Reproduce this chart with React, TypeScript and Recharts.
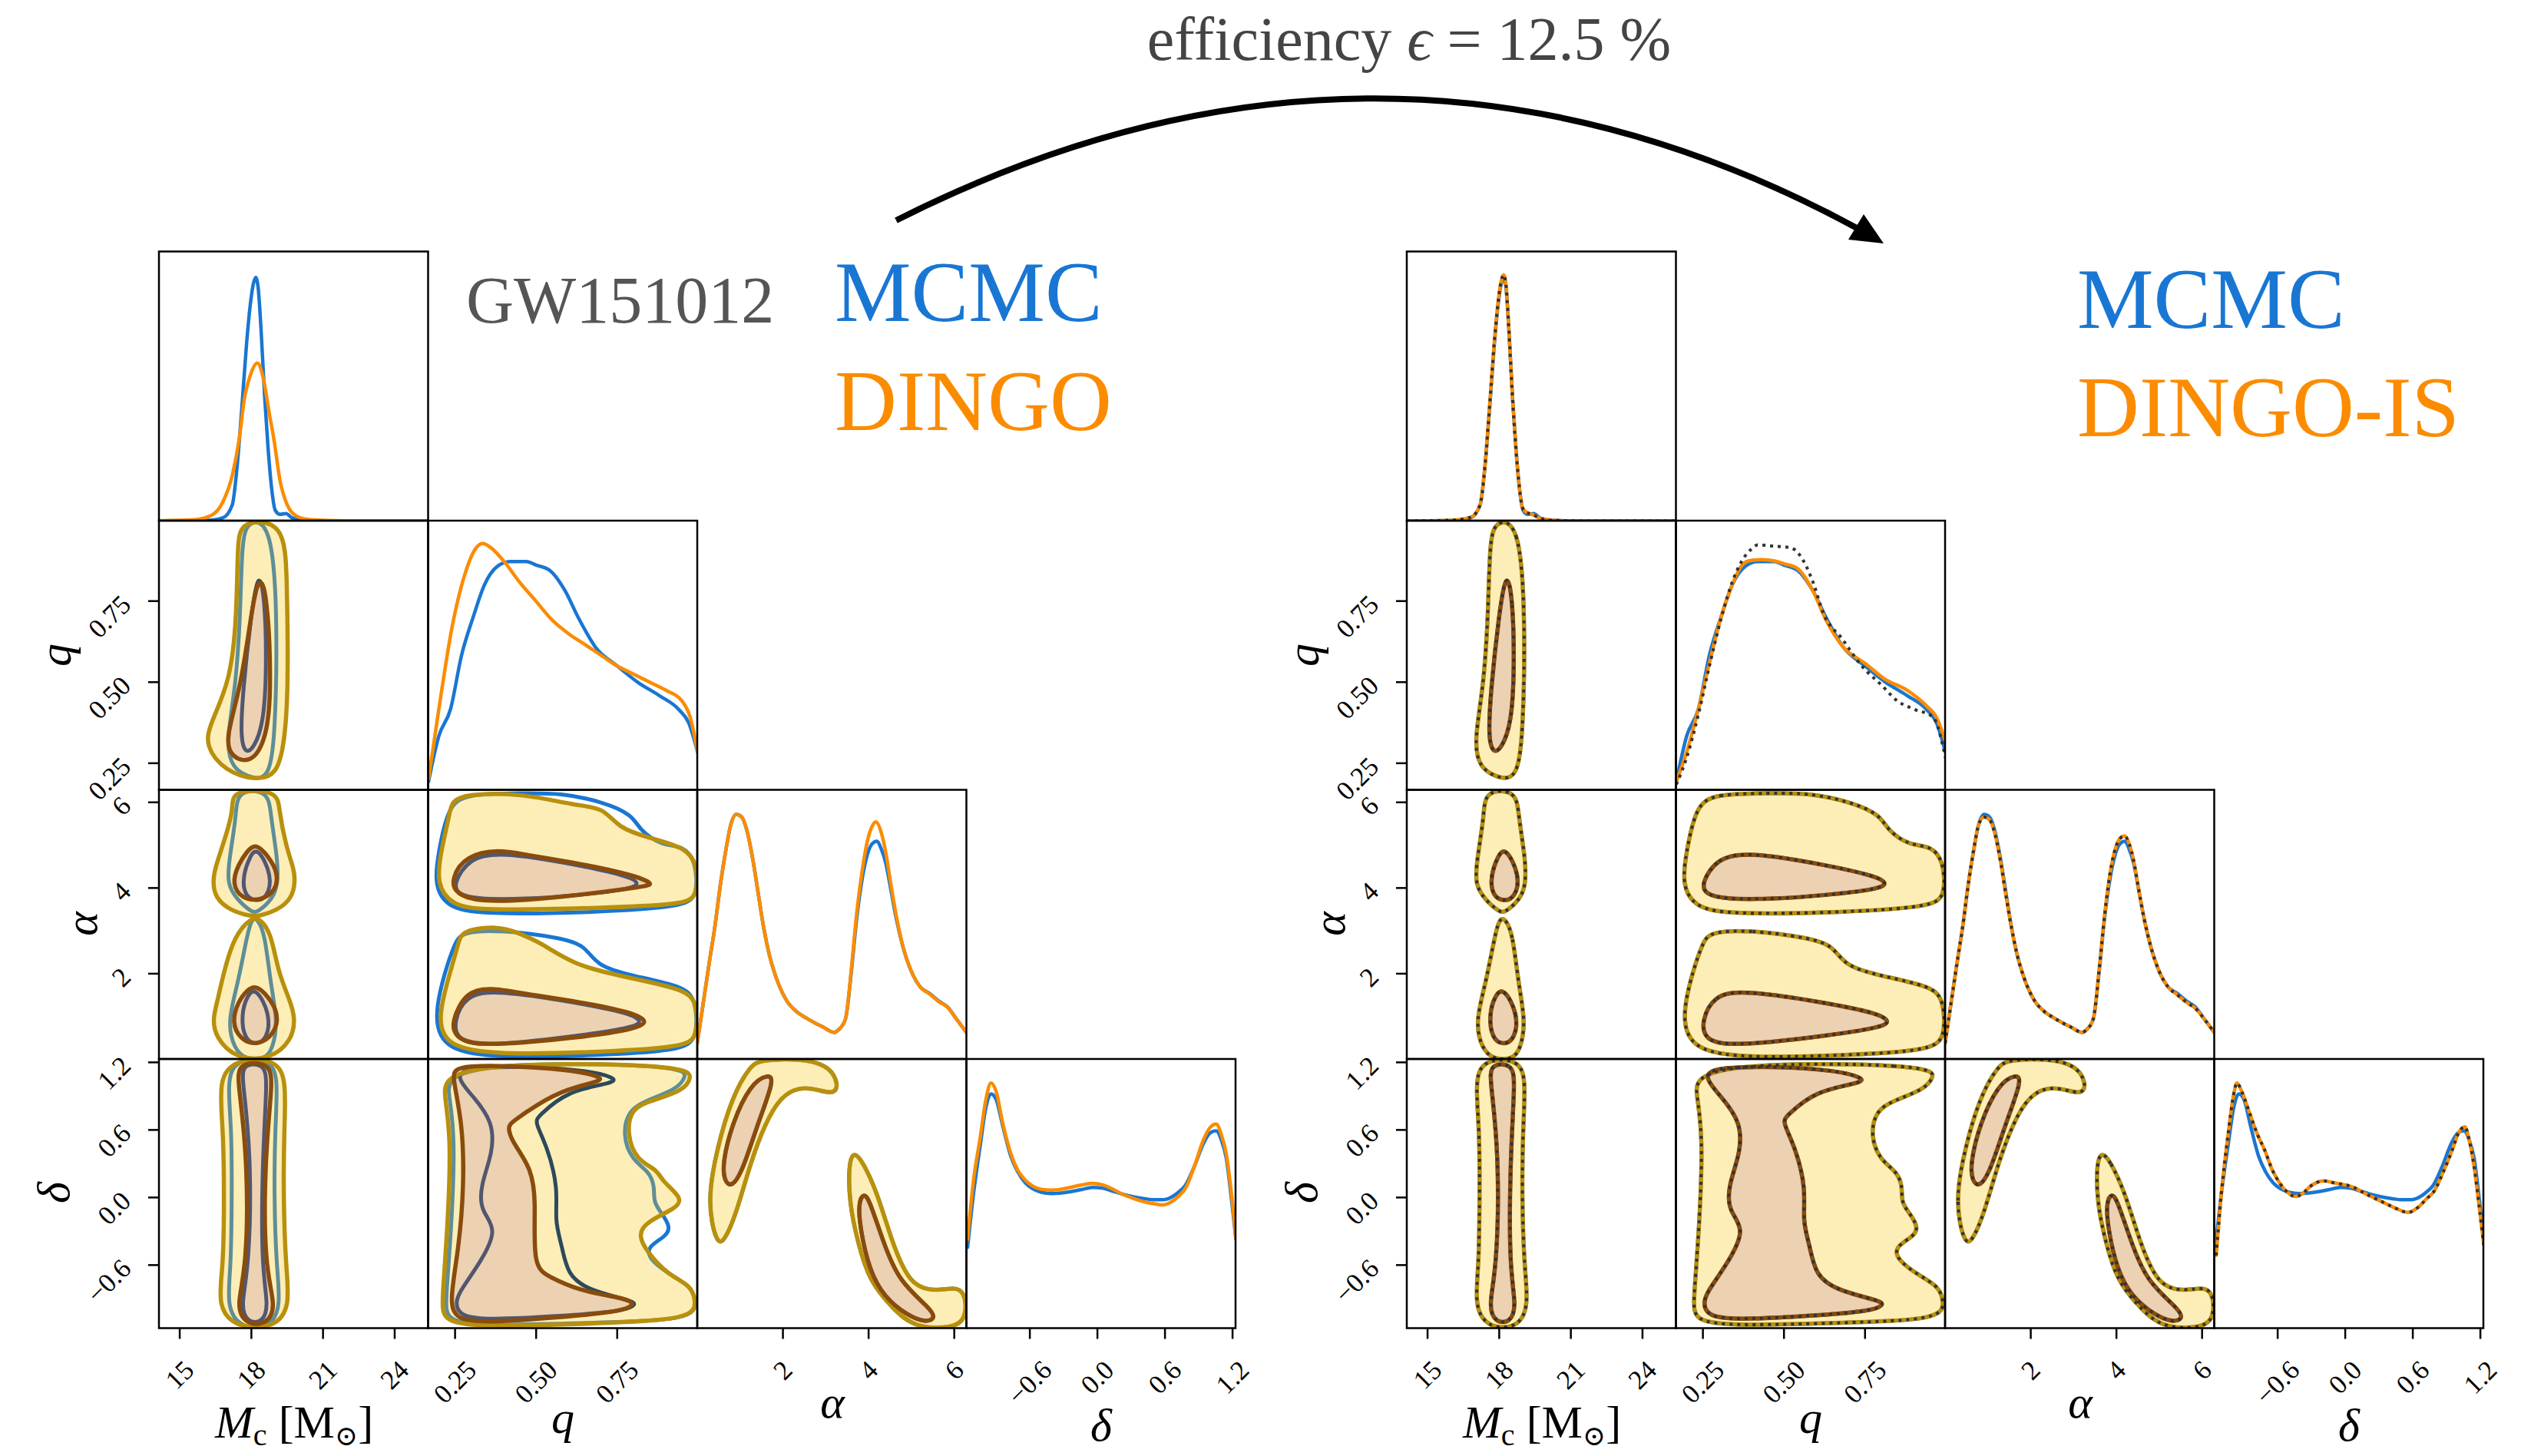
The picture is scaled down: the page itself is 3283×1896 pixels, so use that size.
import React from "react";
import { ScatterChart, Scatter, XAxis, YAxis } from "recharts";

type Pair = [number, number];

// axis ranges
const mcRange: [number, number] = [14.13, 25.4];
const qRange: [number, number] = [0.168, 0.998];
const alphaRange: [number, number] = [0, 6.283];
const deltaRange: [number, number] = [-1.16, 1.23];
const densityRange: [number, number] = [0, 1];

const mcTicks = [15, 18, 21, 24];
const mcTickLabels = ["15", "18", "21", "24"];
const qTicks = [0.25, 0.5, 0.75];
const qTickLabels = ["0.25", "0.50", "0.75"];
const alphaTicks = [2, 4, 6];
const alphaTickLabels = ["2", "4", "6"];
const deltaTicks = [-0.6, 0, 0.6, 1.2];
const deltaTickLabels = ["\u22120.6", "0.0", "0.6", "1.2"];

// 1D marginals (density scaled to panel height)
const mcMcmc: Pair[] = [[14.13, 0], [16.0, 0.002], [16.8, 0.012], [17.2, 0.06], [17.4, 0.2], [17.6, 0.42], [17.8, 0.66], [17.95, 0.8], [18.08, 0.88], [18.18, 0.905], [18.28, 0.87], [18.4, 0.72], [18.55, 0.47], [18.7, 0.27], [18.85, 0.12], [19.0, 0.04], [19.2, 0.025], [19.45, 0.028], [19.7, 0.012], [20.2, 0.003], [21.5, 0], [25.4, 0]];
const mcDingo: Pair[] = [[14.13, 0.001], [15.5, 0.004], [16.3, 0.02], [16.8, 0.07], [17.2, 0.17], [17.5, 0.31], [17.7, 0.45], [17.95, 0.54], [18.25, 0.587], [18.5, 0.53], [18.75, 0.4], [18.95, 0.3], [19.2, 0.15], [19.5, 0.06], [19.9, 0.018], [20.5, 0.005], [22, 0.001], [25.4, 0]];
const mcDingoIs: Pair[] = [[14.13, 0], [16.0, 0.003], [16.8, 0.014], [17.2, 0.06], [17.4, 0.2], [17.6, 0.43], [17.8, 0.67], [17.95, 0.81], [18.08, 0.89], [18.18, 0.915], [18.28, 0.88], [18.4, 0.72], [18.55, 0.47], [18.7, 0.27], [18.85, 0.12], [19.0, 0.045], [19.2, 0.03], [19.45, 0.022], [19.7, 0.01], [20.2, 0.003], [21.5, 0], [25.4, 0]];

const qMcmc: Pair[] = [[0.168, 0.03], [0.2, 0.2], [0.236, 0.3], [0.27, 0.5], [0.307, 0.646], [0.34, 0.76], [0.38, 0.83], [0.42, 0.848], [0.47, 0.848], [0.5, 0.835], [0.542, 0.815], [0.589, 0.74], [0.63, 0.64], [0.683, 0.53], [0.75, 0.46], [0.813, 0.4], [0.88, 0.35], [0.941, 0.297], [0.97, 0.25], [0.998, 0.14]];
const qDingo: Pair[] = [[0.168, 0.04], [0.2, 0.3], [0.24, 0.6], [0.28, 0.8], [0.31, 0.89], [0.335, 0.915], [0.36, 0.9], [0.4, 0.85], [0.45, 0.77], [0.5, 0.7], [0.55, 0.63], [0.6, 0.58], [0.65, 0.54], [0.7, 0.5], [0.75, 0.46], [0.8, 0.43], [0.85, 0.4], [0.9, 0.37], [0.95, 0.33], [0.975, 0.27], [0.998, 0.14]];
const qDingoIs: Pair[] = [[0.168, 0.03], [0.2, 0.14], [0.236, 0.3], [0.27, 0.47], [0.307, 0.646], [0.34, 0.76], [0.366, 0.827], [0.39, 0.85], [0.43, 0.855], [0.471, 0.85], [0.5, 0.84], [0.542, 0.822], [0.589, 0.74], [0.63, 0.63], [0.683, 0.53], [0.75, 0.47], [0.813, 0.41], [0.88, 0.37], [0.941, 0.31], [0.97, 0.27], [0.998, 0.18]];
const qDotted: Pair[] = [[0.168, 0.02], [0.2, 0.12], [0.236, 0.28], [0.27, 0.46], [0.307, 0.64], [0.34, 0.77], [0.37, 0.85], [0.4, 0.895], [0.42, 0.91], [0.47, 0.905], [0.52, 0.9], [0.55, 0.87], [0.59, 0.77], [0.62, 0.66], [0.68, 0.56], [0.74, 0.46], [0.8, 0.39], [0.85, 0.33], [0.9, 0.3], [0.96, 0.27], [0.998, 0.12]];

const alphaMcmc: Pair[] = [[0.0, 0.06], [0.15, 0.22], [0.3, 0.38], [0.4, 0.48], [0.55, 0.66], [0.66, 0.77], [0.78, 0.87], [0.91, 0.91], [1.04, 0.9], [1.16, 0.85], [1.3, 0.74], [1.42, 0.62], [1.55, 0.49], [1.68, 0.39], [1.85, 0.3], [2.1, 0.215], [2.3, 0.18], [2.53, 0.155], [2.75, 0.135], [2.96, 0.118], [3.1, 0.105], [3.2, 0.1], [3.3, 0.11], [3.46, 0.15], [3.6, 0.33], [3.72, 0.52], [3.85, 0.67], [3.97, 0.76], [4.08, 0.8], [4.19, 0.81], [4.3, 0.78], [4.4, 0.73], [4.52, 0.63], [4.65, 0.52], [4.8, 0.42], [4.99, 0.33], [5.2, 0.27], [5.42, 0.245], [5.65, 0.215], [5.84, 0.195], [6.05, 0.15], [6.283, 0.1]];
const alphaDingo: Pair[] = [[0.0, 0.06], [0.15, 0.22], [0.3, 0.38], [0.4, 0.48], [0.55, 0.66], [0.66, 0.77], [0.78, 0.87], [0.91, 0.91], [1.04, 0.9], [1.16, 0.85], [1.3, 0.74], [1.42, 0.62], [1.55, 0.49], [1.68, 0.39], [1.85, 0.3], [2.1, 0.215], [2.3, 0.18], [2.53, 0.155], [2.75, 0.135], [2.96, 0.118], [3.1, 0.105], [3.2, 0.1], [3.3, 0.11], [3.46, 0.15], [3.6, 0.34], [3.72, 0.54], [3.85, 0.7], [3.97, 0.81], [4.08, 0.865], [4.17, 0.882], [4.3, 0.84], [4.4, 0.77], [4.52, 0.65], [4.65, 0.53], [4.8, 0.42], [4.99, 0.33], [5.2, 0.27], [5.42, 0.243], [5.65, 0.213], [5.84, 0.194], [6.05, 0.15], [6.283, 0.1]];
const alphaDingoIs: Pair[] = [[0.0, 0.06], [0.15, 0.22], [0.3, 0.38], [0.4, 0.48], [0.55, 0.66], [0.66, 0.77], [0.78, 0.87], [0.91, 0.9], [1.04, 0.89], [1.16, 0.84], [1.3, 0.73], [1.42, 0.61], [1.55, 0.49], [1.68, 0.39], [1.85, 0.3], [2.1, 0.215], [2.3, 0.18], [2.53, 0.155], [2.75, 0.135], [2.96, 0.118], [3.1, 0.105], [3.2, 0.1], [3.3, 0.11], [3.46, 0.15], [3.6, 0.34], [3.72, 0.53], [3.85, 0.69], [3.97, 0.78], [4.08, 0.82], [4.19, 0.83], [4.3, 0.8], [4.4, 0.74], [4.52, 0.63], [4.65, 0.52], [4.8, 0.42], [4.99, 0.33], [5.2, 0.27], [5.42, 0.24], [5.65, 0.21], [5.84, 0.19], [6.05, 0.15], [6.283, 0.1]];

const deltaMcmc: Pair[] = [[-1.153, 0.3], [-1.1, 0.5], [-1.04, 0.68], [-0.99, 0.82], [-0.945, 0.87], [-0.9, 0.85], [-0.84, 0.75], [-0.77, 0.64], [-0.706, 0.58], [-0.64, 0.54], [-0.576, 0.518], [-0.5, 0.505], [-0.408, 0.5], [-0.32, 0.502], [-0.24, 0.507], [-0.14, 0.515], [-0.044, 0.523], [0.05, 0.52], [0.13, 0.51], [0.22, 0.498], [0.32, 0.488], [0.42, 0.481], [0.5, 0.477], [0.584, 0.477], [0.66, 0.487], [0.72, 0.505], [0.78, 0.53], [0.86, 0.6], [0.946, 0.69], [1.0, 0.725], [1.054, 0.733], [1.1, 0.7], [1.145, 0.63], [1.19, 0.48], [1.23, 0.33]];
const deltaDingo: Pair[] = [[-1.153, 0.33], [-1.1, 0.55], [-1.04, 0.71], [-0.99, 0.85], [-0.945, 0.911], [-0.9, 0.88], [-0.84, 0.76], [-0.77, 0.65], [-0.706, 0.586], [-0.64, 0.55], [-0.576, 0.528], [-0.5, 0.516], [-0.408, 0.513], [-0.32, 0.516], [-0.24, 0.523], [-0.14, 0.532], [-0.044, 0.538], [0.05, 0.532], [0.13, 0.518], [0.22, 0.498], [0.32, 0.482], [0.42, 0.469], [0.5, 0.462], [0.584, 0.458], [0.66, 0.47], [0.72, 0.49], [0.78, 0.518], [0.86, 0.6], [0.946, 0.704], [1.0, 0.745], [1.054, 0.758], [1.1, 0.72], [1.145, 0.645], [1.19, 0.5], [1.23, 0.332]];
const deltaDingoIs: Pair[] = [[-1.146, 0.27], [-1.1, 0.5], [-1.04, 0.72], [-0.99, 0.87], [-0.962, 0.911], [-0.92, 0.88], [-0.85, 0.8], [-0.78, 0.72], [-0.718, 0.664], [-0.65, 0.59], [-0.58, 0.538], [-0.5, 0.5], [-0.443, 0.489], [-0.38, 0.5], [-0.3, 0.53], [-0.194, 0.547], [-0.1, 0.54], [0.068, 0.524], [0.2, 0.495], [0.33, 0.469], [0.45, 0.445], [0.558, 0.43], [0.65, 0.45], [0.72, 0.48], [0.788, 0.508], [0.87, 0.58], [0.952, 0.664], [1.0, 0.72], [1.063, 0.748], [1.1, 0.7], [1.148, 0.59], [1.19, 0.45], [1.23, 0.31]];

// 2D credible contours, 90% (outer) and 50% (inner)
const mcQOuterDingo: Pair[] = [[17.56, 0.998], [19.39, 0.998], [19.49, 0.82], [19.55, 0.48], [19.39, 0.314], [19.07, 0.213], [18.19, 0.197], [16.9, 0.225], [16.06, 0.303], [16.26, 0.37], [17.13, 0.504], [17.39, 0.706], [17.42, 0.93]];
const mcQInnerDingo: Pair[] = [[18.26, 0.823], [18.64, 0.801], [18.85, 0.482], [18.64, 0.325], [17.99, 0.247], [17.13, 0.27], [16.91, 0.325], [17.55, 0.482], [17.99, 0.706]];
const mcQOuterMcmc: Pair[] = [[17.82, 0.998], [18.83, 0.998], [19.1, 0.705], [18.99, 0.313], [18.73, 0.213], [18.18, 0.197], [17.12, 0.234], [16.96, 0.325], [17.34, 0.481], [17.54, 0.705], [17.6, 0.93]];
const mcQInnerMcmc: Pair[] = [[18.3, 0.85], [18.57, 0.76], [18.64, 0.54], [18.51, 0.37], [18.09, 0.295], [17.76, 0.28], [17.54, 0.325], [17.64, 0.47], [17.99, 0.71]];

const mcAlphaUpperOuterDingo: Pair[] = [[17.12, 6.283], [19.11, 6.283], [19.15, 5.85], [19.44, 4.99], [19.75, 4.5], [19.85, 4.17], [19.69, 3.74], [19.05, 3.47], [18.31, 3.34], [17.99, 3.34], [17.12, 3.47], [16.48, 3.77], [16.38, 4.17], [16.5, 4.5], [16.8, 4.99], [17.28, 5.85]];
const mcAlphaLowerOuterDingo: Pair[] = [[18.31, 3.3], [18.82, 2.98], [19.11, 2.05], [19.6, 1.4], [19.85, 0.96], [19.69, 0.44], [18.82, 0], [17.35, 0], [16.48, 0.53], [16.38, 0.96], [16.6, 1.4], [16.8, 1.94], [17.28, 2.89], [17.99, 3.3]];
const mcAlphaUpperInnerDingo: Pair[] = [[18.18, 5.05], [18.73, 4.73], [19.11, 4.36], [19.05, 3.95], [18.41, 3.7], [17.6, 3.74], [17.18, 4.1], [17.44, 4.54], [17.83, 4.87]];
const mcAlphaLowerInnerDingo: Pair[] = [[18.18, 1.74], [18.73, 1.46], [19.15, 1.05], [18.99, 0.6], [18.25, 0.31], [17.51, 0.47], [17.18, 0.87], [17.44, 1.35], [17.83, 1.62]];
const mcAlphaUpperOuterMcmc: Pair[] = [[17.38, 6.283], [18.73, 6.283], [18.8, 5.71], [19.11, 4.63], [19.11, 4.09], [18.89, 3.74], [18.25, 3.43], [18.02, 3.43], [17.38, 3.74], [16.99, 4.09], [17.06, 4.63], [17.38, 5.71]];
const mcAlphaLowerOuterMcmc: Pair[] = [[18.25, 3.29], [18.57, 2.93], [18.8, 1.77], [19.11, 0.87], [18.89, 0.24], [18.57, 0], [17.76, 0], [17.28, 0.24], [16.99, 0.87], [17.44, 1.77], [17.83, 2.93], [18.02, 3.29]];
const mcAlphaUpperInnerMcmc: Pair[] = [[18.25, 4.99], [18.89, 4.27], [18.66, 3.77], [18.18, 3.68], [17.7, 3.83], [17.64, 4.27], [17.92, 4.72]];
const mcAlphaLowerInnerMcmc: Pair[] = [[18.18, 1.69], [18.8, 1.05], [18.66, 0.47], [18.18, 0.33], [17.7, 0.47], [17.57, 1.05], [17.83, 1.5]];

const mcDeltaOuterDingo: Pair[] = [[17.35, 1.23], [18.99, 1.23], [19.47, 1.056], [19.37, 0.606], [19.34, -0.008], [19.44, -0.62], [19.63, -0.962], [18.99, -1.16], [17.35, -1.16], [16.57, -0.962], [16.83, -0.62], [16.86, -0.008], [16.83, 0.606], [16.61, 1.056]];
const mcDeltaInnerDingo: Pair[] = [[17.43, 1.2], [18.79, 1.2], [18.89, 1.015], [18.57, 0.4], [18.53, -0.62], [19.05, -0.962], [18.66, -1.13], [17.76, -1.13], [17.35, -0.962], [17.83, -0.62], [17.83, 0.4], [17.44, 1.015]];
const mcDeltaOuterMcmc: Pair[] = [[17.28, 1.23], [18.89, 1.23], [19.11, 1.015], [18.99, 0.606], [18.95, -0.008], [19.05, -0.62], [19.24, -0.962], [18.79, -1.16], [17.51, -1.16], [16.96, -0.962], [17.15, -0.62], [17.18, -0.008], [17.18, 0.606], [16.99, 1.015]];
const mcDeltaInnerMcmc: Pair[] = [[17.6, 1.19], [18.57, 1.19], [18.66, 1.015], [18.47, 0.4], [18.41, -0.62], [18.73, -0.962], [18.47, -1.112], [17.83, -1.112], [17.54, -0.962], [17.92, -0.62], [17.99, 0.4], [17.64, 1.015]];

const qAlphaUpperOuterDingo: Pair[] = [[0.238, 6.01], [0.283, 6.2], [0.463, 6.21], [0.619, 5.92], [0.707, 5.89], [0.752, 5.41], [0.842, 5.18], [0.965, 4.94], [0.998, 4.52], [0.998, 3.8], [0.953, 3.61], [0.686, 3.53], [0.328, 3.47], [0.238, 3.61], [0.193, 4.1], [0.205, 4.81], [0.233, 5.71]];
const qAlphaUpperInnerDingo: Pair[] = [[0.238, 4.22], [0.283, 4.76], [0.385, 4.9], [0.463, 4.78], [0.629, 4.58], [0.797, 4.31], [0.863, 4.1], [0.842, 4.04], [0.629, 3.83], [0.463, 3.71], [0.328, 3.68], [0.25, 3.86]];
const qAlphaLowerOuterDingo: Pair[] = [[0.271, 3.02], [0.385, 3.11], [0.439, 2.97], [0.517, 2.72], [0.619, 2.18], [0.797, 1.89], [0.953, 1.64], [0.998, 1.35], [0.998, 0.51], [0.953, 0.27], [0.629, 0.15], [0.39, 0.12], [0.226, 0.27], [0.193, 0.93], [0.238, 2.12], [0.261, 2.72]];
const qAlphaLowerInnerDingo: Pair[] = [[0.238, 0.87], [0.283, 1.59], [0.361, 1.68], [0.463, 1.53], [0.629, 1.35], [0.797, 1.1], [0.851, 0.87], [0.797, 0.69], [0.629, 0.51], [0.463, 0.39], [0.316, 0.33], [0.25, 0.51]];
const qAlphaUpperOuterMcmc: Pair[] = [[0.228, 5.9], [0.283, 6.2], [0.463, 6.21], [0.574, 6.22], [0.707, 6.01], [0.797, 5.71], [0.819, 5.35], [0.887, 4.99], [0.953, 4.99], [0.993, 4.63], [0.998, 3.8], [0.953, 3.56], [0.686, 3.43], [0.328, 3.38], [0.221, 3.56], [0.186, 4.1], [0.198, 4.81]];
const qAlphaLowerOuterMcmc: Pair[] = [[0.271, 2.98], [0.394, 3.02], [0.574, 2.84], [0.652, 2.66], [0.686, 2.18], [0.797, 1.95], [0.953, 1.71], [0.993, 1.41], [0.998, 0.51], [0.953, 0.19], [0.629, 0.08], [0.39, 0.04], [0.221, 0.19], [0.181, 0.93], [0.221, 2.12], [0.25, 2.72]];
const qAlphaUpperInnerMcmc: Pair[] = [[0.245, 4.1], [0.292, 4.69], [0.387, 4.85], [0.629, 4.54], [0.789, 4.27], [0.82, 4.1], [0.789, 3.97], [0.629, 3.83], [0.463, 3.74], [0.316, 3.74], [0.257, 3.86]];
const qAlphaLowerInnerMcmc: Pair[] = [[0.245, 0.87], [0.283, 1.5], [0.375, 1.62], [0.629, 1.32], [0.789, 1.08], [0.832, 0.87], [0.789, 0.73], [0.629, 0.55], [0.463, 0.4], [0.316, 0.33], [0.257, 0.47]];

const qDeltaOuterDingo: Pair[] = [[0.216, 1.199], [0.965, 1.186], [0.981, 1.063], [0.953, 0.947], [0.853, 0.858], [0.792, 0.79], [0.78, 0.558], [0.809, 0.333], [0.875, 0.245], [0.887, 0.149], [0.953, -0.008], [0.932, -0.096], [0.842, -0.212], [0.813, -0.328], [0.842, -0.485], [0.908, -0.69], [0.977, -0.778], [0.993, -0.915], [0.986, -1.085], [0.685, -1.119], [0.349, -1.146], [0.21, -1.112], [0.21, -0.915], [0.228, -0.233], [0.238, 0.558], [0.216, 0.899]];
const qDeltaInnerDingo: Pair[] = [[0.25, 1.186], [0.574, 1.152], [0.707, 1.074], [0.697, 1.029], [0.595, 0.967], [0.505, 0.831], [0.427, 0.674], [0.411, 0.627], [0.427, 0.49], [0.484, 0.265], [0.5, -0.008], [0.489, -0.621], [0.541, -0.703], [0.629, -0.826], [0.773, -0.894], [0.806, -0.942], [0.773, -1.01], [0.574, -1.064], [0.349, -1.112], [0.25, -1.085], [0.233, -0.915], [0.261, -0.465], [0.278, 0.108], [0.273, 0.674], [0.24, 1.084]];
const qDeltaOuterMcmc: Pair[] = [[0.221, 1.199], [0.96, 1.186], [0.962, 1.063], [0.932, 0.96], [0.837, 0.858], [0.785, 0.776], [0.766, 0.558], [0.795, 0.333], [0.849, 0.231], [0.866, 0.094], [0.861, -0.042], [0.889, -0.145], [0.915, -0.267], [0.899, -0.348], [0.842, -0.437], [0.849, -0.553], [0.915, -0.69], [0.979, -0.792], [0.993, -0.928], [0.986, -1.085], [0.685, -1.112], [0.349, -1.14], [0.221, -1.099], [0.221, -0.915], [0.24, -0.233], [0.25, 0.558], [0.231, 0.899]];
const qDeltaInnerMcmc: Pair[] = [[0.261, 1.174], [0.629, 1.152], [0.752, 1.061], [0.735, 1.015], [0.595, 0.947], [0.507, 0.72], [0.495, 0.674], [0.535, 0.447], [0.568, 0.083], [0.557, -0.212], [0.579, -0.417], [0.596, -0.689], [0.663, -0.826], [0.797, -0.917], [0.808, -0.951], [0.775, -1.008], [0.574, -1.053], [0.35, -1.087], [0.261, -1.053], [0.25, -0.917], [0.272, -0.803], [0.328, -0.576], [0.383, -0.28], [0.328, -0.121], [0.328, 0.106], [0.367, 0.402], [0.367, 0.674], [0.305, 0.901], [0.261, 1.038]];

const alphaDeltaUpperOuter: Pair[] = [[0.45, -0.417], [0.23, -0.042], [0.45, 0.422], [0.81, 0.893], [1.24, 1.172], [1.5, 1.23], [2.98, 1.23], [3.32, 1.008], [3.19, 0.913], [2.8, 0.961], [2.37, 0.981], [1.94, 0.893], [1.58, 0.654], [1.24, 0.306], [0.9, -0.158], [0.63, -0.39]];
const alphaDeltaUpperInner: Pair[] = [[1.67, 1.098], [1.8, 1.043], [1.41, 0.654], [1.06, 0.238], [0.81, 0.088], [0.63, 0.142], [0.59, 0.306], [0.81, 0.654], [1.24, 1.008]];
const alphaDeltaLowerOuter: Pair[] = [[3.67, 0.401], [3.84, 0.333], [4.2, 0.05], [4.54, -0.392], [4.97, -0.788], [5.58, -0.834], [6.1, -0.788], [6.27, -0.882], [6.27, -1.071], [6.01, -1.16], [5.06, -1.16], [4.54, -0.976], [4.02, -0.743], [3.76, -0.417], [3.54, -0.042], [3.54, 0.333]];
const alphaDeltaLowerInner: Pair[] = [[3.89, 0.04], [4.02, -0.021], [4.36, -0.417], [4.71, -0.743], [5.41, -0.976], [5.58, -1.071], [5.32, -1.112], [4.89, -1.044], [4.36, -0.882], [4.02, -0.649], [3.8, -0.275], [3.76, -0.042]];

const SERIF = "'Liberation Serif', 'DejaVu Serif', serif";
const BLUE = "#1976D2";
const ORANGE = "#FB8C00";
const GOLD = "#B8900C";
const BROWN = "#8A4C0C";
const REF_INNER = "#2C4A5C";
const OUTER_FILL = "rgb(249,197,18)";
const INNER_FILL = "rgb(189,129,169)";
const DOT = "#333333";

const P = 350.5;
const M = 40;
const AXW = 130;
const AXH = 110;
const TICK_FS = 35;

type Layer = {
  data: Pair[];
  closed: boolean;
  fill?: string;
  fillOpacity?: number;
  stroke?: string;
  width?: number;
  dash?: string;
};

type Piece = { outer: Pair[]; inner: Pair[]; refOuter: Pair[]; refInner: Pair[] };

const labelSide = (s: string) => {
  const em = [...s].reduce((w, c) => w + (c === "." ? 0.25 : c === "\u2212" ? 0.56 : 0.5), 0);
  return (em * TICK_FS + 0.7 * TICK_FS) * 0.7071;
};

function XTick(props: any) {
  const { x, y, payload, values, labels } = props;
  const text = labels[values.indexOf(payload.value)] ?? String(payload.value);
  const s = labelSide(text);
  const cx = x;
  const cy = y + 26 + s / 2;
  return (
    <text x={cx} y={cy} textAnchor="middle" dominantBaseline="central" fontSize={TICK_FS} fontFamily={SERIF} fill="#000" transform={`rotate(-45 ${cx} ${cy})`}>
      {text}
    </text>
  );
}

function YTick(props: any) {
  const { x, y, payload, values, labels } = props;
  const text = labels[values.indexOf(payload.value)] ?? String(payload.value);
  const s = labelSide(text);
  const cx = x - 20 - s / 2;
  const cy = y - 10 + s / 2;
  return (
    <text x={cx} y={cy} textAnchor="middle" dominantBaseline="central" fontSize={TICK_FS} fontFamily={SERIF} fill="#000" transform={`rotate(-45 ${cx} ${cy})`}>
      {text}
    </text>
  );
}

const NoDot = () => <g />;

function Panel(props: {
  left: number;
  top: number;
  xDomain: [number, number];
  yDomain: [number, number];
  xTicks?: number[];
  xLabels?: string[];
  yTicks?: number[];
  yLabels?: string[];
  layers: Layer[];
}) {
  const { left, top, xDomain, yDomain, xTicks, xLabels, yTicks, yLabels, layers } = props;
  const yw = yTicks ? AXW : 0;
  const xh = xTicks ? AXH : 0;
  return (
    <div style={{ position: "absolute", left: left - M - yw, top: top - M }}>
      <ScatterChart width={P + 2 * M + yw} height={P + 2 * M + xh} margin={{ top: M, right: M, bottom: M, left: M }}>
        <XAxis
          type="number"
          dataKey="x"
          domain={xDomain}
          allowDataOverflow
          hide={!xTicks}
          height={xh || 1}
          ticks={xTicks}
          interval={0}
          tickSize={14}
          tickMargin={0}
          axisLine={false}
          tickLine={{ stroke: "#000", strokeWidth: 2.5 }}
          tick={(p: any) => <XTick {...p} values={xTicks} labels={xLabels} />}
        />
        <YAxis
          type="number"
          dataKey="y"
          domain={yDomain}
          allowDataOverflow
          hide={!yTicks}
          width={yw || 1}
          ticks={yTicks}
          interval={0}
          tickSize={14}
          tickMargin={0}
          axisLine={false}
          tickLine={{ stroke: "#000", strokeWidth: 2.5 }}
          tick={(p: any) => <YTick {...p} values={yTicks} labels={yLabels} />}
        />
        {layers.map((l, i) => (
          <Scatter
            key={i}
            data={l.data.map(([x, y]) => ({ x, y }))}
            isAnimationActive={false}
            shape={NoDot}
            fill="none"
            lineJointType={l.closed ? "basisClosed" : "monotoneX"}
            line={{
              fill: l.fill ?? "none",
              fillOpacity: l.fillOpacity ?? 1,
              stroke: l.stroke ?? "none",
              strokeWidth: l.width ?? 0,
              strokeDasharray: l.dash,
              strokeLinejoin: "round",
              strokeLinecap: l.dash ? "butt" : "round",
            }}
          />
        ))}
      </ScatterChart>
    </div>
  );
}

function contourLayers(pieces: Piece[], dotted: boolean): Layer[] {
  const out: Layer[] = [];
  pieces.forEach((p) => out.push({ data: p.refOuter, closed: true, stroke: BLUE, width: 5 }));
  pieces.forEach((p) => out.push({ data: p.outer, closed: true, fill: OUTER_FILL, fillOpacity: 0.31 }));
  pieces.forEach((p) => out.push({ data: p.refInner, closed: true, stroke: REF_INNER, width: 5 }));
  pieces.forEach((p) => out.push({ data: p.inner, closed: true, fill: INNER_FILL, fillOpacity: 0.25 }));
  pieces.forEach((p) => out.push({ data: p.outer, closed: true, stroke: GOLD, width: 5.5 }));
  pieces.forEach((p) => out.push({ data: p.inner, closed: true, stroke: BROWN, width: 5.5 }));
  if (dotted) {
    pieces.forEach((p) => out.push({ data: p.outer, closed: true, stroke: DOT, width: 4, dash: "4 6" }));
    pieces.forEach((p) => out.push({ data: p.inner, closed: true, stroke: DOT, width: 4, dash: "4 6" }));
  }
  return out;
}

function marginalLayers(ref: Pair[], other: Pair[], dotted?: Pair[]): Layer[] {
  const out: Layer[] = [
    { data: ref, closed: false, stroke: BLUE, width: 4.5 },
    { data: other, closed: false, stroke: ORANGE, width: 4.5 },
  ];
  if (dotted) out.push({ data: dotted, closed: false, stroke: DOT, width: 4, dash: "4 6" });
  return out;
}

function CornerPlot({ ox, oy, importanceSampled }: { ox: number; oy: number; importanceSampled: boolean }) {
  const is = importanceSampled;
  const pick = (dingo: Pair[], mcmc: Pair[]) => (is ? mcmc : dingo);
  const piece = (outer: Pair[], inner: Pair[], refOuter: Pair[], refInner: Pair[]): Piece => ({
    outer: pick(outer, refOuter),
    inner: pick(inner, refInner),
    refOuter,
    refInner,
  });

  const colRanges = [mcRange, qRange, alphaRange, deltaRange];
  const rowRanges = [densityRange, qRange, alphaRange, deltaRange];
  const xTickSets = [mcTicks, qTicks, alphaTicks, deltaTicks];
  const xLabelSets = [mcTickLabels, qTickLabels, alphaTickLabels, deltaTickLabels];

  const cells: { col: number; row: number; layers: Layer[] }[] = [
    { col: 0, row: 0, layers: marginalLayers(mcMcmc, is ? mcDingoIs : mcDingo, is ? mcDingoIs : undefined) },
    { col: 1, row: 1, layers: marginalLayers(qMcmc, is ? qDingoIs : qDingo, is ? qDotted : undefined) },
    { col: 2, row: 2, layers: marginalLayers(alphaMcmc, is ? alphaDingoIs : alphaDingo, is ? alphaDingoIs : undefined) },
    { col: 3, row: 3, layers: marginalLayers(deltaMcmc, is ? deltaDingoIs : deltaDingo, is ? deltaDingoIs : undefined) },
    { col: 0, row: 1, layers: contourLayers([piece(mcQOuterDingo, mcQInnerDingo, mcQOuterMcmc, mcQInnerMcmc)], is) },
    {
      col: 0,
      row: 2,
      layers: contourLayers(
        [
          piece(mcAlphaUpperOuterDingo, mcAlphaUpperInnerDingo, mcAlphaUpperOuterMcmc, mcAlphaUpperInnerMcmc),
          piece(mcAlphaLowerOuterDingo, mcAlphaLowerInnerDingo, mcAlphaLowerOuterMcmc, mcAlphaLowerInnerMcmc),
        ],
        is
      ),
    },
    { col: 0, row: 3, layers: contourLayers([piece(mcDeltaOuterDingo, mcDeltaInnerDingo, mcDeltaOuterMcmc, mcDeltaInnerMcmc)], is) },
    {
      col: 1,
      row: 2,
      layers: contourLayers(
        [
          piece(qAlphaUpperOuterDingo, qAlphaUpperInnerDingo, qAlphaUpperOuterMcmc, qAlphaUpperInnerMcmc),
          piece(qAlphaLowerOuterDingo, qAlphaLowerInnerDingo, qAlphaLowerOuterMcmc, qAlphaLowerInnerMcmc),
        ],
        is
      ),
    },
    { col: 1, row: 3, layers: contourLayers([piece(qDeltaOuterDingo, qDeltaInnerDingo, qDeltaOuterMcmc, qDeltaInnerMcmc)], is) },
    {
      col: 2,
      row: 3,
      layers: contourLayers(
        [
          piece(alphaDeltaUpperOuter, alphaDeltaUpperInner, alphaDeltaUpperOuter, alphaDeltaUpperInner),
          piece(alphaDeltaLowerOuter, alphaDeltaLowerInner, alphaDeltaLowerOuter, alphaDeltaLowerInner),
        ],
        is
      ),
    },
  ];

  return (
    <>
      {cells.map((c) => (
        <Panel
          key={`${c.col}-${c.row}`}
          left={ox + c.col * P}
          top={oy + c.row * P}
          xDomain={colRanges[c.col]}
          yDomain={c.col === c.row ? densityRange : rowRanges[c.row]}
          xTicks={c.row === 3 ? xTickSets[c.col] : undefined}
          xLabels={c.row === 3 ? xLabelSets[c.col] : undefined}
          yTicks={c.col === 0 && c.row > 0 ? xTickSets[c.row] : undefined}
          yLabels={c.col === 0 && c.row > 0 ? xLabelSets[c.row] : undefined}
          layers={c.layers}
        />
      ))}
    </>
  );
}

const LEFT_X = 207;
const RIGHT_X = 1832;
const TOP_Y = 327.5;

function Frames({ ox, oy }: { ox: number; oy: number }) {
  const rects = [];
  for (let r = 0; r < 4; r++) {
    for (let c = 0; c <= r; c++) {
      rects.push(<rect key={`${r}-${c}`} x={ox + c * P} y={oy + r * P} width={P} height={P} fill="none" stroke="#000" strokeWidth={2.5} />);
    }
  }
  return <>{rects}</>;
}

function AxisNames({ ox }: { ox: number }) {
  const fs = 60;
  const shift = ox - LEFT_X;
  return (
    <g fontFamily={SERIF} fontSize={fs} fill="#000">
      <text x={72 + shift} y={853} textAnchor="middle" dominantBaseline="central" fontStyle="italic" transform={`rotate(-90 ${72 + shift} 853)`}>q</text>
      <text x={106 + shift} y={1203} textAnchor="middle" dominantBaseline="central" fontStyle="italic" transform={`rotate(-90 ${106 + shift} 1203)`}>α</text>
      <text x={70 + shift} y={1553} textAnchor="middle" dominantBaseline="central" fontStyle="italic" transform={`rotate(-90 ${70 + shift} 1553)`}>δ</text>
      <text x={383 + shift} y={1872} textAnchor="middle">
        <tspan fontStyle="italic">M</tspan>
        <tspan fontSize={40} dy={10}>c</tspan>
        <tspan dy={-10}> [M</tspan>
        <tspan fontSize={36} dy={10}>⊙</tspan>
        <tspan dy={-10}>]</tspan>
      </text>
      <text x={733 + shift} y={1866} textAnchor="middle" fontStyle="italic">q</text>
      <text x={1084 + shift} y={1846} textAnchor="middle" fontStyle="italic">α</text>
      <text x={1434 + shift} y={1876} textAnchor="middle" fontStyle="italic">δ</text>
    </g>
  );
}

export default function App() {
  return (
    <div style={{ position: "absolute", left: 0, top: 0, width: 3283, height: 1896, background: "#fff", overflow: "hidden" }}>
      <CornerPlot ox={LEFT_X} oy={TOP_Y} importanceSampled={false} />
      <CornerPlot ox={RIGHT_X} oy={TOP_Y} importanceSampled={true} />
      <svg width={3283} height={1896} style={{ position: "absolute", left: 0, top: 0, pointerEvents: "none" }}>
        <Frames ox={LEFT_X} oy={TOP_Y} />
        <Frames ox={RIGHT_X} oy={TOP_Y} />
        <AxisNames ox={LEFT_X} />
        <AxisNames ox={RIGHT_X} />

        <text x={1835} y={78} textAnchor="middle" fontFamily={SERIF} fontSize={80} fill="#444">
          efficiency <tspan fontStyle="italic">ϵ</tspan> = 12.5 %
        </text>
        <path d="M1167 287 Q1806 -36 2420 298" fill="none" stroke="#000" strokeWidth={8} />
        <polygon points="2453,317 2407,312 2427,279" fill="#000" />

        <text x={607} y={420} fontFamily={SERIF} fontSize={86} fill="#555">GW151012</text>
        <text x={1087} y={418} fontFamily={SERIF} fontSize={112} fill={BLUE}>MCMC</text>
        <text x={1087} y={560} fontFamily={SERIF} fontSize={112} fill={ORANGE}>DINGO</text>
        <text x={2705} y={427} fontFamily={SERIF} fontSize={112} fill={BLUE}>MCMC</text>
        <text x={2705} y={568} fontFamily={SERIF} fontSize={112} fill={ORANGE}>DINGO-IS</text>
      </svg>
    </div>
  );
}
